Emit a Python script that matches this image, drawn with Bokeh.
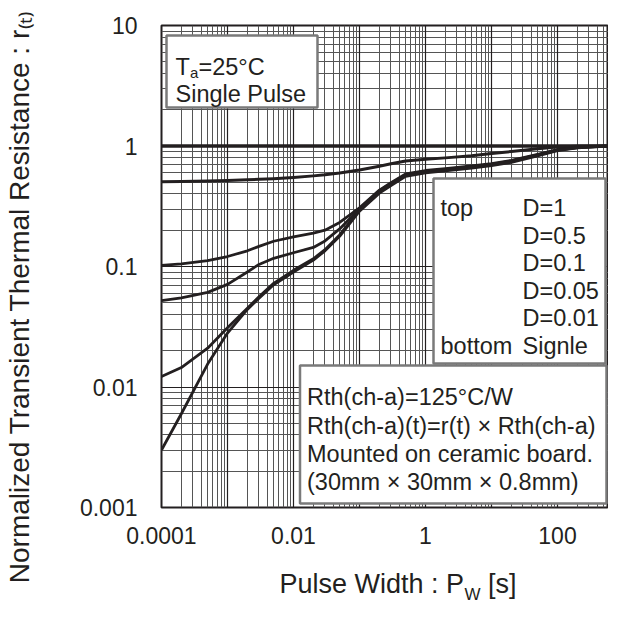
import math
from bokeh.plotting import figure
from bokeh.models import Range1d, FixedTicker, Grid, BoxAnnotation, Label, LogAxis
from bokeh.embed import file_html
from bokeh.resources import INLINE

# ---------------- data ----------------
pulse_width = [1e-4, 2e-4, 5e-4, 1e-3, 2e-3, 3e-3, 5e-3, 1e-2, 2e-2, 3e-2, 5e-2,
               0.1, 0.2, 0.3, 0.5, 1, 2, 5, 10, 20, 50, 100, 200, 500, 1000]
d1_x = [1e-4, 1000]
r_d1 = [1.0, 1.0]
r_d05 = [0.505, 0.508, 0.512, 0.517, 0.524, 0.529, 0.536, 0.549, 0.565, 0.577, 0.597,
         0.632, 0.68, 0.712, 0.752, 0.778, 0.797, 0.83, 0.865, 0.9, 0.95, 0.98, 0.995, 1.0, 1.0]
r_d01 = [0.102, 0.105, 0.112, 0.121, 0.135, 0.147, 0.162, 0.176, 0.189, 0.2, 0.232,
         0.307, 0.43, 0.496, 0.587, 0.626, 0.65, 0.683, 0.714, 0.76, 0.853, 0.935, 0.977, 0.997, 1.0]
r_d005 = [0.052, 0.055, 0.061, 0.071, 0.09, 0.104, 0.117, 0.13, 0.144, 0.163, 0.205,
          0.302, 0.423, 0.488, 0.579, 0.617, 0.641, 0.674, 0.705, 0.751, 0.845, 0.928, 0.972, 0.996, 1.0]
r_d001 = [0.0122, 0.0145, 0.021, 0.031, 0.045, 0.056, 0.0725, 0.093, 0.116, 0.138, 0.183,
          0.295, 0.415, 0.48, 0.571, 0.609, 0.634, 0.667, 0.698, 0.744, 0.839, 0.923, 0.969, 0.994, 1.0]
r_single = [0.003, 0.006, 0.0155, 0.028, 0.044, 0.0545, 0.0705, 0.09, 0.113, 0.135, 0.178,
            0.288, 0.406, 0.47, 0.56, 0.598, 0.622, 0.655, 0.686, 0.732, 0.828, 0.915, 0.964, 0.992, 1.0]

x_ticks = [1e-4, 1e-2, 1, 100]
x_tick_labels = ["0.0001", "0.01", "1", "100"]
y_ticks = [1e-3, 1e-2, 1e-1, 1, 10]
y_tick_labels = ["0.001", "0.01", "0.1", "1", "10"]

y_title = "Normalized Transient Thermal Resistance : r\u208d\u209c\u208e"
x_title_parts = ["Pulse Width : P", "[s]"]
x_title_sub = "W"

legend_left = ["top", "bottom"]
legend_right = ["D=1", "D=0.5", "D=0.1", "D=0.05", "D=0.01", "Signle"]
note_lines = ["Rth(ch-a)=125\u00b0C/W",
              "Rth(ch-a)(t)=r(t) \u00d7 Rth(ch-a)",
              "Mounted on ceramic board.",
              "(30mm  \u00d7  30mm  \u00d7  0.8mm)"]

# ---------------- layout (canvas pixels) ----------------
FONT = "Liberation Sans"
INK = "#231f20"
FL, FT = 161, 25            # frame left / top
DEC_X, DEC_Y = 66.0, 120.5  # pixels per decade
W, H = 608, 606
x_end = 10 ** ((W - FL) / DEC_X - 4)

def px2x(px):
    return 10 ** ((px - FL) / DEC_X - 4)

def py2y(py):
    return 10 ** (1 - (py - FT) / DEC_Y)

p = figure(width=W, height=H, x_axis_type="log", y_axis_type="log",
           x_range=Range1d(1e-4, x_end), y_range=Range1d(1e-3, 10),
           output_backend="svg", toolbar_location=None,
           min_border_left=FL, min_border_right=0,
           min_border_top=FT, min_border_bottom=H - FT - 482)
p.background_fill_color = "white"
p.border_fill_color = "white"
p.outline_line_color = INK
p.outline_line_width = 2
p.grid.visible = False

dec_x = [10.0 ** k for k in range(-4, 4)]
dec_y = [10.0 ** k for k in range(-3, 2)]
min_x = [m * d for d in dec_x for m in range(2, 10)]
min_y = [m * d for d in dec_y for m in range(2, 10)]
for dim, ticks, col, lw in [(0, min_x, "#555555", 1), (1, min_y, "#555555", 1),
                            (0, dec_x, INK, 1.2), (1, dec_y, INK, 1.2)]:
    p.add_layout(Grid(dimension=dim, ticker=FixedTicker(ticks=ticks),
                      grid_line_color=col, grid_line_width=lw))

def plain(ax, size, standoff):
    ax.axis_line_color = None
    ax.major_tick_line_color = None
    ax.minor_tick_line_color = None
    ax.major_tick_out = 0
    ax.major_tick_in = 0
    ax.minor_tick_out = 0
    ax.minor_tick_in = 0
    ax.major_label_text_font = FONT
    ax.major_label_text_font_size = size
    ax.major_label_text_color = INK
    ax.major_label_standoff = standoff

plain(p.xaxis[0], "23px", 19)
plain(p.yaxis[0], "23px", 24)
p.xaxis[0].ticker = FixedTicker(ticks=x_ticks, minor_ticks=[])
p.yaxis[0].ticker = FixedTicker(ticks=y_ticks, minor_ticks=[])
p.xaxis[0].major_label_overrides = {t: s for t, s in zip(x_ticks, x_tick_labels)}
p.yaxis[0].major_label_overrides = {t: s for t, s in zip(y_ticks, y_tick_labels)}

# axis titles, each placed as the label of an extra, otherwise invisible axis
ty = py2y(296)
ay = LogAxis(ticker=FixedTicker(ticks=[ty], minor_ticks=[]),
             major_label_overrides={ty: y_title}, major_label_orientation="parallel")
plain(ay, "28px", 42)
p.add_layout(ay, "left")

tx1, tx2 = px2x(371.3), px2x(501.8)
ax1 = LogAxis(ticker=FixedTicker(ticks=[tx1, tx2], minor_ticks=[]),
              major_label_overrides={tx1: x_title_parts[0], tx2: x_title_parts[1]})
plain(ax1, "27px", 22)
p.add_layout(ax1, "below")

tw = px2x(472)
ax2 = LogAxis(ticker=FixedTicker(ticks=[tw], minor_ticks=[]),
              major_label_overrides={tw: x_title_sub})
plain(ax2, "17px", -17)
p.add_layout(ax2, "below")

# ---------------- curves ----------------
p.line(d1_x, r_d1, line_color=INK, line_width=3.5)
p.line(pulse_width, r_d05, line_color=INK, line_width=3, line_join="round")
for ys in (r_d01, r_d005, r_d001, r_single):
    p.line(pulse_width, ys, line_color=INK, line_width=2.8, line_join="round")

# ---------------- boxes ----------------
def box(l, t, r, b):
    p.add_layout(BoxAnnotation(left=px2x(l), right=px2x(r), top=py2y(t), bottom=py2y(b),
                               fill_color="white", fill_alpha=1.0,
                               line_color="#7a7a7a", line_width=2.5, line_alpha=1.0))

box(166, 35, 317, 107)
box(433, 178, 605, 363)
box(299.5, 365, 606, 503)

def lab(px, py, text, size="23.5px"):
    p.add_layout(Label(x=px, y=py, x_units="canvas", y_units="canvas", text=text,
                       text_font=FONT, text_font_size=size, text_color=INK,
                       text_align="left", text_baseline="alphabetic"))

# box 1
lab(175, 66, "T")
lab(189.5, 72, "a", size="15px")
lab(198, 66, "=25\u00b0C")
lab(175, 93.5, "Single Pulse")

# box 2
row_y = [207.5, 235, 262.5, 290, 317.5, 345]
lab(440, row_y[0], legend_left[0])
lab(440, row_y[-1], legend_left[1])
for yy, t in zip(row_y, legend_right):
    lab(522, yy, t)

# box 3
for yy, t in zip([396, 425, 453, 481], note_lines):
    lab(306.5, yy, t)

open("out.html", "w").write(file_html(p, INLINE))
